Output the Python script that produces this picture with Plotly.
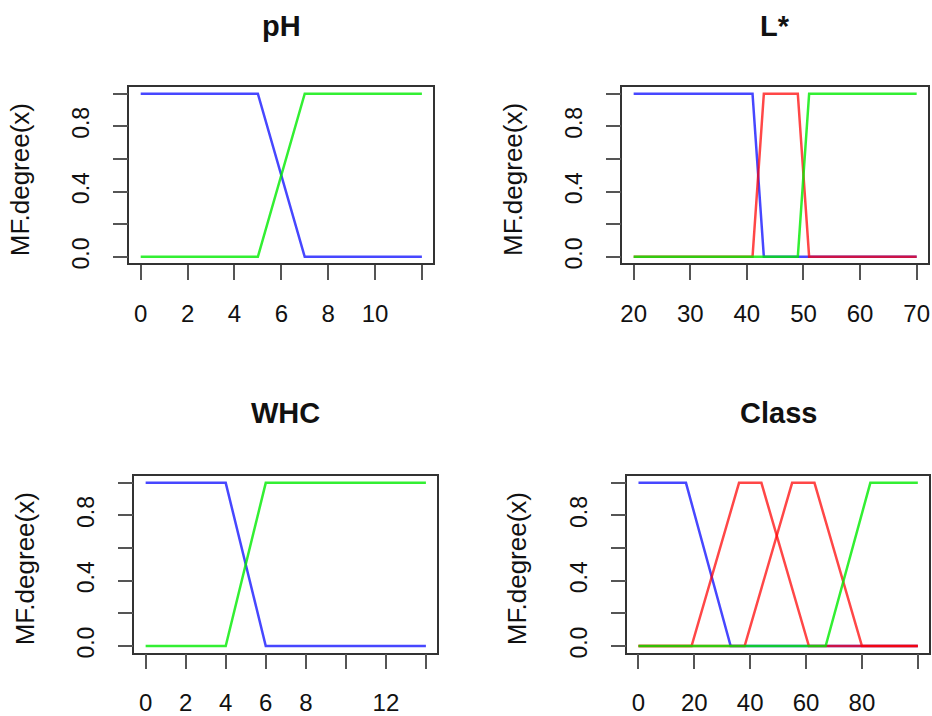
import plotly.graph_objects as go

W, H = 932, 716

# ---------------- data ----------------
titles = ["pH", "L*", "WHC", "Class"]

ph_x_blue = [0, 5, 7, 12]
ph_y_blue = [1, 1, 0, 0]
ph_x_green = [0, 5, 7, 12]
ph_y_green = [0, 0, 1, 1]

l_x_blue = [20, 41, 43, 70]
l_y_blue = [1, 1, 0, 0]
l_x_red = [20, 41, 43, 49, 51, 70]
l_y_red = [0, 0, 1, 1, 0, 0]
l_x_green = [20, 49, 51, 70]
l_y_green = [0, 0, 1, 1]

whc_x_blue = [0, 4, 6, 14]
whc_y_blue = [1, 1, 0, 0]
whc_x_green = [0, 4, 6, 14]
whc_y_green = [0, 0, 1, 1]

cl_x_blue = [0, 17, 33, 100]
cl_y_blue = [1, 1, 0, 0]
cl_x_red1 = [0, 19, 36, 44, 61, 100]
cl_y_red1 = [0, 0, 1, 1, 0, 0]
cl_x_red2 = [0, 38, 55, 63, 80, 100]
cl_y_red2 = [0, 0, 1, 1, 0, 0]
cl_x_green = [0, 67, 83, 100]
cl_y_green = [0, 0, 1, 1]

ph_ticks = [0, 2, 4, 6, 8, 10, 12]
ph_ticktext = ["0", "2", "4", "6", "8", "10", ""]
l_ticks = [20, 30, 40, 50, 60, 70]
l_ticktext = ["20", "30", "40", "50", "60", "70"]
whc_ticks = [0, 2, 4, 6, 8, 10, 12, 14]
whc_ticktext = ["0", "2", "4", "6", "8", "", "12", ""]
cl_ticks = [0, 20, 40, 60, 80, 100]
cl_ticktext = ["0", "20", "40", "60", "80", ""]

y_ticks = [0, 0.2, 0.4, 0.6, 0.8, 1.0]
y_ticktext = ["0.0", "", "0.4", "", "0.8", ""]
y_title = "MF.degree(x)"

# ---------------- style ----------------
BLUE = "rgba(0,0,255,0.72)"
GREEN = "rgba(0,235,0,0.8)"
RED = "rgba(255,0,0,0.72)"
FONT = "Liberation Sans, Arial, Helvetica, sans-serif"
LW = 2.5

# panel boxes in pixels: (left, right, top, bottom)
boxes = [(128, 433, 88, 266), (623, 930, 88, 266),
         (133, 437, 481, 659), (628, 931, 481, 659)]
xranges = [[-0.48, 12.48], [18, 72], [-0.56, 14.56], [-4, 104]]
xticks = [(ph_ticks, ph_ticktext), (l_ticks, l_ticktext),
          (whc_ticks, whc_ticktext), (cl_ticks, cl_ticktext)]
title_y = [26, 26, 417, 417]

fig = go.Figure()

series = [
    [(ph_x_blue, ph_y_blue, BLUE), (ph_x_green, ph_y_green, GREEN)],
    [(l_x_blue, l_y_blue, BLUE), (l_x_red, l_y_red, RED), (l_x_green, l_y_green, GREEN)],
    [(whc_x_blue, whc_y_blue, BLUE), (whc_x_green, whc_y_green, GREEN)],
    [(cl_x_blue, cl_y_blue, BLUE), (cl_x_red1, cl_y_red1, RED),
     (cl_x_red2, cl_y_red2, RED), (cl_x_green, cl_y_green, GREEN)],
]

annotations = []
for i in range(4):
    n = "" if i == 0 else str(i + 1)
    for xs, ys, col in series[i]:
        fig.add_trace(go.Scatter(x=xs, y=ys, mode="lines",
                                 line=dict(color=col, width=LW),
                                 xaxis="x" + n, yaxis="y" + n,
                                 showlegend=False, hoverinfo="skip"))
    l, r, t, b = boxes[i]
    tv, tt = xticks[i]
    axis_common = dict(showline=True, mirror=True, linecolor="#333333", linewidth=1.6,
                       ticks="outside", ticklen=15, tickwidth=2, tickcolor="#555555",
                       showgrid=False, zeroline=False)
    fig.layout["xaxis" + n] = dict(domain=[l / W, r / W], range=xranges[i],
                                   anchor="y" + n, tickvals=tv, ticktext=tt,
                                   ticklabelstandoff=13,
                                   tickfont=dict(family=FONT, size=24, color="#111111"),
                                   **axis_common)
    fig.layout["yaxis" + n] = dict(domain=[1 - b / H, 1 - t / H], range=[-0.04, 1.04],
                                   anchor="x" + n, tickvals=y_ticks, ticktext=y_ticktext,
                                   tickangle=-90, ticklabelstandoff=14,
                                   tickfont=dict(family=FONT, size=23, color="#111111"),
                                   **axis_common)
    annotations.append(dict(text="<b>%s</b>" % titles[i], xref="paper", yref="paper",
                            x=(l + r) / 2 / W, y=1 - title_y[i] / H,
                            xanchor="center", yanchor="middle", showarrow=False,
                            font=dict(family=FONT, size=29, color="#111111")))
    annotations.append(dict(text=y_title, xref="paper", yref="paper",
                            x=(l - 110) / W, y=1 - ((t + b) / 2 + 4) / H,
                            xanchor="center", yanchor="middle", showarrow=False,
                            textangle=-90,
                            font=dict(family=FONT, size=26, color="#111111")))

fig.update_layout(width=W, height=H, margin=dict(l=0, r=0, t=0, b=0),
                  paper_bgcolor="white", plot_bgcolor="white",
                  annotations=annotations, showlegend=False)

fig.write_html("out.html", config={"displayModeBar": False},
               post_script="document.body.style.margin='0';")
